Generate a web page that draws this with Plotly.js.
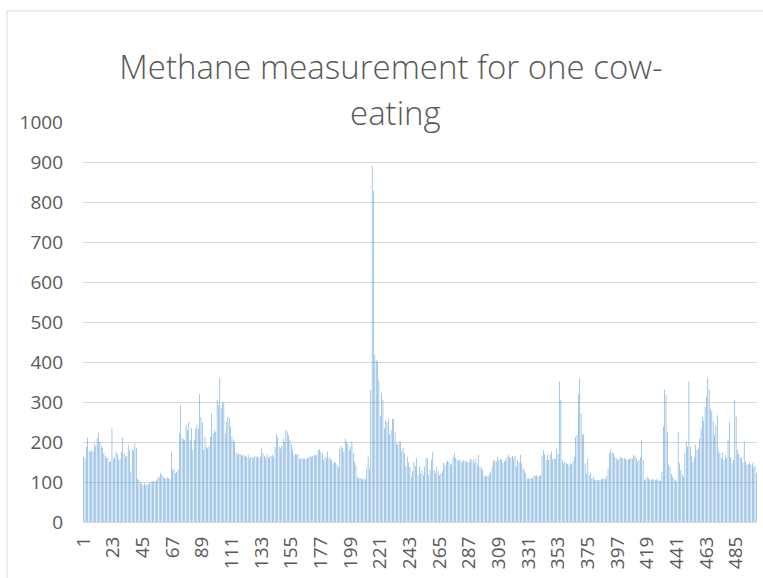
<!DOCTYPE html>
<html>
<head>
<meta charset="utf-8">
<script src="https://cdn.plot.ly/plotly-3.0.1.min.js"></script>
<style>
html,body{margin:0;padding:0;background:#fff;}
#chart{width:763px;height:578px;}
</style>
</head>
<body>
<div id="chart"></div>
<script>
// Methane readings, samples 1..500
var methane_001_050 = [163,160,188,212,178,175,180,176,195,190,210,223,200,190,185,172,165,160,160,150,152,233,158,160,176,170,155,158,176,212,170,163,165,193,180,126,182,178,197,185,109,105,100,95,92,97,92,95,93,98];
var methane_051_100 = [100,101,103,101,105,110,113,123,118,113,110,109,112,109,108,176,130,134,122,125,130,222,292,210,207,205,243,230,250,205,235,180,205,234,243,233,320,263,250,180,213,188,184,190,213,272,222,230,225,305];
var methane_101_150 = [292,360,284,297,300,222,250,263,259,238,213,205,200,175,168,172,170,168,165,168,165,162,168,160,163,162,160,165,162,165,160,163,184,172,165,160,168,162,163,165,168,163,188,220,213,188,184,190,209,200];
var methane_151_200 = [230,226,217,205,193,180,168,170,168,170,157,159,160,158,159,158,160,162,165,163,165,168,166,168,180,182,175,172,155,163,160,176,162,158,155,147,151,148,143,137,184,190,185,175,209,201,195,180,188,201];
var methane_201_250 = [172,150,143,113,109,110,109,107,108,107,134,163,134,330,890,828,417,405,400,357,265,323,305,234,255,250,259,218,230,258,257,226,197,193,201,201,178,185,172,140,163,150,138,113,126,151,140,159,117,138];
var methane_251_300 = [122,128,117,138,161,159,117,130,155,176,130,122,138,126,117,122,128,148,143,150,153,150,143,145,163,172,160,155,153,155,151,150,155,152,151,148,150,159,155,156,148,159,143,168,138,135,130,117,113,115];
var methane_301_350 = [115,119,126,138,155,153,151,163,155,158,155,147,152,155,163,168,162,160,165,159,165,140,155,150,168,147,134,128,122,109,109,108,110,109,117,115,117,113,115,117,165,180,170,155,168,155,168,176,157,160];
var methane_351_400 = [157,184,170,352,305,155,147,150,147,145,143,147,145,151,163,213,217,320,360,272,217,220,147,120,159,117,122,109,113,105,105,106,104,105,107,108,109,107,115,134,172,182,175,172,163,160,155,158,162,160];
var methane_401_450 = [159,160,158,155,157,157,160,158,168,165,159,151,155,162,205,155,105,108,113,110,105,107,106,107,105,107,105,103,104,126,238,332,318,226,143,138,120,113,108,105,101,226,147,130,120,113,172,201,188,351];
var methane_451_500 = [188,165,151,163,193,180,184,209,234,263,253,288,313,360,332,284,276,253,217,243,267,178,173,159,173,155,168,160,205,250,162,148,155,305,263,180,170,162,160,148,201,150,143,145,148,143,147,137,140,122];

var methane = [].concat(methane_001_050, methane_051_100, methane_101_150, methane_151_200,
  methane_201_250, methane_251_300, methane_301_350, methane_351_400, methane_401_450, methane_451_500);
var sampleNo = methane.map(function(_, i){ return i + 1; });
var xTickVals = [1,23,45,67,89,111,133,155,177,199,221,243,265,287,309,331,353,375,397,419,441,463,485];
var yTickVals = [0,100,200,300,400,500,600,700,800,900,1000];
var titleLine1 = 'Methane measurement for one cow-';
var titleLine2 = 'eating';

var titleFont = {family: 'Open Sans, sans-serif', size: 33, color: '#595959', weight: 300};

var trace = {
  type: 'bar',
  x: sampleNo,
  y: methane,
  marker: {color: '#5B9BD5', line: {width: 0}},
  hoverinfo: 'none'
};

var layout = {
  width: 763, height: 578,
  margin: {l: 83, r: 6, t: 122, b: 56, pad: 0},
  paper_bgcolor: '#ffffff', plot_bgcolor: '#ffffff',
  showlegend: false,
  bargap: 0.6,
  font: {family: 'Open Sans, sans-serif', color: '#595959'},
  title: {
    text: titleLine1,
    font: titleFont,
    xref: 'container', x: 391 / 763, xanchor: 'center',
    yref: 'container', y: 1 - 67 / 578, yanchor: 'middle'
  },
  annotations: [{
    text: titleLine2, font: titleFont, showarrow: false,
    xref: 'paper', x: (395 - 83) / 674, xanchor: 'center',
    yref: 'paper', y: (522 - 112) / 400, yanchor: 'middle'
  }],
  xaxis: {
    type: 'linear', range: [0.5, 500.5],
    tickmode: 'array', tickvals: xTickVals, ticktext: xTickVals.map(String),
    tickangle: -90, ticks: '', showgrid: false, zeroline: false,
    showline: true, linecolor: '#d9d9d9', linewidth: 1,
    tickfont: {family: 'Open Sans, sans-serif', size: 19, color: '#595959'},
    ticklabelstandoff: 6
  },
  yaxis: {
    range: [0, 1000], tickmode: 'array', tickvals: yTickVals,
    showgrid: true, gridcolor: '#d9d9d9', gridwidth: 1,
    zeroline: false, showline: false, ticks: '',
    tickfont: {family: 'Open Sans, sans-serif', size: 19, color: '#595959'},
    ticklabelstandoff: 19
  },
  shapes: [{
    type: 'rect', xref: 'paper', yref: 'paper',
    x0: (7 - 83) / 674, x1: (800 - 83) / 674,
    y0: (522 - 620) / 400, y1: (522 - 11) / 400,
    line: {color: '#d9d9d9', width: 1}, fillcolor: 'rgba(0,0,0,0)', layer: 'below'
  }]
};

Plotly.newPlot('chart', [trace], layout, {staticPlot: true, displayModeBar: false});
</script>
</body>
</html>
